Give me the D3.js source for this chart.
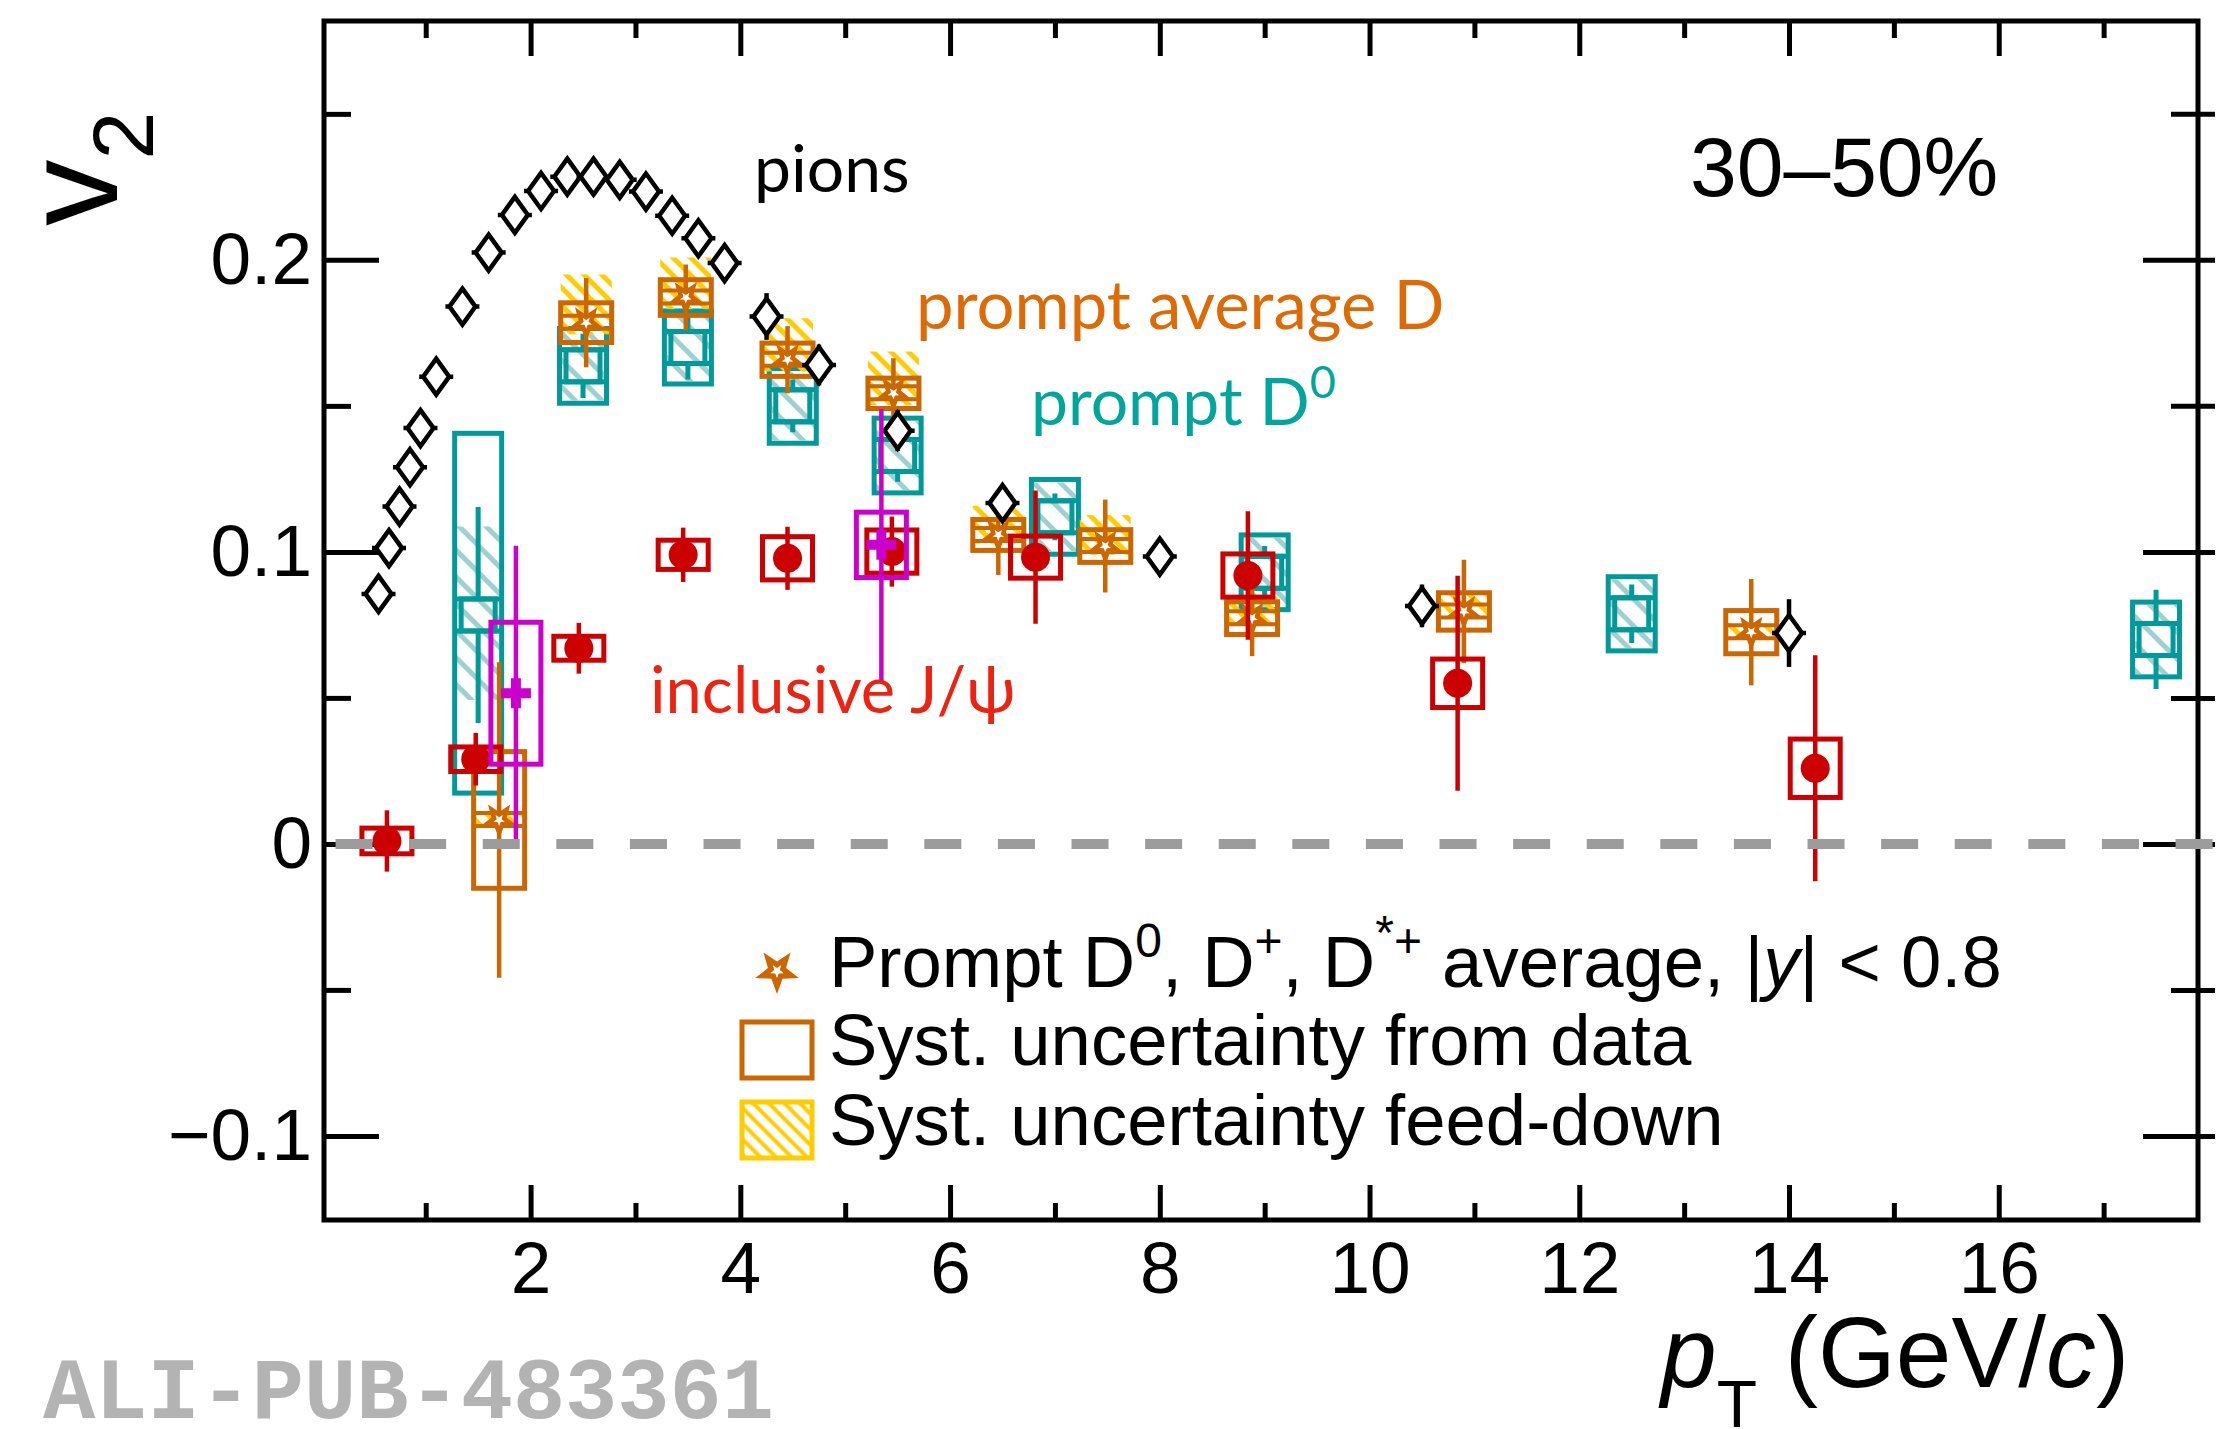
<!DOCTYPE html>
<html>
<head>
<meta charset="utf-8">
<script src="https://cdn.jsdelivr.net/npm/d3@7"></script>
<style>
  html, body { margin: 0; padding: 0; background: #ffffff; }
  svg { display: block; }
</style>
</head>
<body>
<svg id="chart" width="2240" height="1429"></svg>
<script>
// ---------------- data ----------------
// charged pions
const pionPt   = [0.55, 0.65, 0.75, 0.85, 0.95, 1.1, 1.35, 1.6, 1.85, 2.1, 2.35, 2.6, 2.85, 3.1, 3.35, 3.6, 3.85, 4.25, 4.75, 5.5, 6.5, 8.0, 10.5, 14.0];
const pionV2   = [0.0856, 0.1013, 0.1155, 0.129, 0.1424, 0.160, 0.184, 0.2025, 0.2154, 0.2236, 0.2285, 0.2285, 0.2274, 0.2234, 0.2151, 0.2074, 0.1989, 0.1806, 0.164, 0.1415, 0.1167, 0.0984, 0.0815, 0.0722];
const pionStat = [0.001, 0.001, 0.001, 0.001, 0.001, 0.001, 0.001, 0.001, 0.001, 0.001, 0.001, 0.001, 0.001, 0.001, 0.001, 0.001, 0.002, 0.008, 0.007, 0.007, 0.006, 0.004, 0.0073, 0.0116];

// prompt D0, D+, D*+ average
const dAvgPt     = [1.70, 2.53, 3.48, 4.45, 5.46, 6.46, 7.48, 8.88, 10.9, 13.64];
const dAvgV2     = [0.0082, 0.1785, 0.1871, 0.1658, 0.1543, 0.1058, 0.1020, 0.0773, 0.0796, 0.0725];
const dAvgStat   = [0.054, 0.0153, 0.0113, 0.0115, 0.012, 0.0137, 0.0159, 0.013, 0.0177, 0.0182];
const dAvgSyst   = [0.0234, 0.0068, 0.0061, 0.0057, 0.0052, 0.0053, 0.0056, 0.0056, 0.0064, 0.0074];
const dAvgFdUp   = [0.003, 0.0165, 0.0137, 0.0142, 0.0143, 0.010, 0.0106, 0.0074, 0.006, 0.003];
const dAvgFdDown = [0.002, 0.004, 0.004, 0.004, 0.004, 0.003, 0.003, 0.002, 0.002, 0.002];

// prompt D0
const d0Pt       = [1.5, 2.5, 3.5, 4.5, 5.5, 7.0, 9.0, 12.5, 17.5];
const d0V2       = [0.0784, 0.1637, 0.170, 0.150, 0.133, 0.112, 0.093, 0.0788, 0.070];
const d0Stat     = [0.037, 0.011, 0.011, 0.009, 0.009, 0.008, 0.009, 0.010, 0.017];
const d0SystUp   = [0.0622, 0.0128, 0.0125, 0.0128, 0.0128, 0.0128, 0.0128, 0.0127, 0.0128];
const d0SystDown = [0.0610, 0.0128, 0.0125, 0.0128, 0.0128, 0.0128, 0.0128, 0.0127, 0.0128];
const d0FdUp     = [0.0303, 0.0118, 0.0115, 0.0118, 0.0118, 0.0118, 0.0118, 0.0117, 0.0118];
const d0FdDown   = [0.0291, 0.0118, 0.0115, 0.0118, 0.0118, 0.0118, 0.0118, 0.0117, 0.0118];

// inclusive J/psi (forward)
const jpsiPt   = [0.63, 1.477, 2.46, 3.455, 4.45, 5.445, 6.815, 8.84, 10.84, 14.25];
const jpsiV2   = [0.001, 0.029, 0.067, 0.099, 0.0978, 0.1001, 0.0982, 0.0919, 0.055, 0.0259];
const jpsiStat = [0.0105, 0.009, 0.0087, 0.0093, 0.0108, 0.012, 0.0228, 0.022, 0.0368, 0.0387];
const jpsiSyst = [0.0044, 0.0042, 0.0041, 0.005, 0.0074, 0.0074, 0.0072, 0.0074, 0.0083, 0.010];

// inclusive J/psi (midrapidity)
const jpsiMidPt   = [1.86, 5.345];
const jpsiMidV2   = [0.0516, 0.1024];
const jpsiMidStat = [0.0505, 0.0465];
const jpsiMidSyst = [0.0243, 0.0112];

// axis ticks
const xMajorTicks = [2, 4, 6, 8, 10, 12, 14, 16];
const xMinorTicks = [1, 3, 5, 7, 9, 11, 13, 15, 17];
const yMajorTicks = [-0.1, 0, 0.1, 0.2];
const yTickLabels = ["\u22120.1", "0", "0.1", "0.2"];
const yMinorTicks = [-0.05, 0.05, 0.15, 0.25];

// ---------------- layout ----------------
const frame = { left: 324, right: 2198, top: 21, bottom: 1220 };
const x = d3.scaleLinear().domain([0.03, 17.9]).range([frame.left, frame.right]);
const y = d3.scaleLinear().domain([-0.1288, 0.2818]).range([frame.bottom, frame.top]);

const C = {
  orange: "#cc6600", orangeText: "#dd6a05", yellow: "#ffcc00",
  teal: "#009a9a", tealHatch: "#9fcfcf", tealText: "#00a69c",
  red: "#cc0000", redText: "#ee2211", magenta: "#cc00cc", gray: "#9c9c9c"
};
const tickFont = "'Liberation Sans', Arial, Helvetica, sans-serif";
const labelFont = "Lato, 'Open Sans', sans-serif";

const svg = d3.select("#chart");
const idx = arr => arr.map((_, i) => i);

// hatch patterns
const defs = svg.append("defs");
function hatch(id, color, spacing, width) {
  const p = defs.append("pattern").attr("id", id)
    .attr("patternUnits", "userSpaceOnUse")
    .attr("width", spacing).attr("height", spacing)
    .attr("patternTransform", "rotate(-45)");
  p.append("line").attr("x1", spacing / 2).attr("x2", spacing / 2)
    .attr("y1", 0).attr("y2", spacing)
    .attr("stroke", color).attr("stroke-width", width);
}
hatch("hatchYellow", C.yellow, 12.5, 5);
hatch("hatchTeal", C.tealHatch, 19, 5);
hatch("hatchYellowLegend", C.yellow, 11, 4);

// ---------------- frame & axes ----------------
const axes = svg.append("g").attr("class", "axes");

axes.append("g").attr("transform", `translate(0,${frame.bottom})`)
  .call(d3.axisBottom(x).tickValues(xMajorTicks).tickSize(-35).tickPadding(21).tickFormat(d3.format("d")));
axes.append("g").attr("transform", `translate(0,${frame.bottom})`)
  .call(d3.axisBottom(x).tickValues(xMinorTicks).tickSize(-17).tickFormat(""));
axes.append("g").attr("transform", `translate(0,${frame.top})`)
  .call(d3.axisTop(x).tickValues(xMajorTicks).tickSize(-35).tickFormat(""));
axes.append("g").attr("transform", `translate(0,${frame.top})`)
  .call(d3.axisTop(x).tickValues(xMinorTicks).tickSize(-17).tickFormat(""));

axes.append("g").attr("transform", `translate(${frame.left},0)`)
  .call(d3.axisLeft(y).tickValues(yMajorTicks).tickSize(-55).tickPadding(12)
    .tickFormat((d, i) => yTickLabels[i]));
axes.append("g").attr("transform", `translate(${frame.left},0)`)
  .call(d3.axisLeft(y).tickValues(yMinorTicks).tickSize(-27).tickFormat(""));
const gRightMajor = axes.append("g").attr("transform", `translate(${frame.right},0)`)
  .call(d3.axisRight(y).tickValues(yMajorTicks).tickSize(-55).tickFormat(""));
const gRightMinor = axes.append("g").attr("transform", `translate(${frame.right},0)`)
  .call(d3.axisRight(y).tickValues(yMinorTicks).tickSize(-27).tickFormat(""));
gRightMajor.selectAll(".tick line").attr("x1", 17);
gRightMinor.selectAll(".tick line").attr("x1", 17);

axes.selectAll(".domain").remove();
axes.selectAll(".tick line").attr("stroke", "#000").attr("stroke-width", 5);
axes.selectAll(".tick text").attr("fill", "#000")
  .style("font-family", tickFont).style("font-size", "73px");

axes.append("rect")
  .attr("x", frame.left).attr("y", frame.top)
  .attr("width", frame.right - frame.left).attr("height", frame.bottom - frame.top)
  .attr("fill", "none").attr("stroke", "#000").attr("stroke-width", 5);

// axis titles
svg.append("text")
  .attr("transform", "translate(117,226) rotate(-90)")
  .style("font-family", tickFont).style("font-size", "133px").attr("fill", "#000")
  .call(t => {
    t.append("tspan").text("v");
    t.append("tspan").attr("dy", 36).style("font-size", "86px").text("2");
  });

svg.append("text")
  .attr("x", 1661).attr("y", 1387)
  .style("font-family", tickFont).style("font-size", "100px").attr("fill", "#000")
  .call(t => {
    t.append("tspan").style("font-style", "italic").text("p");
    t.append("tspan").attr("dy", 40).style("font-size", "66px").text("T");
    t.append("tspan").attr("dy", -40).text(" (GeV/");
    t.append("tspan").style("font-style", "italic").text("c");
    t.append("tspan").text(")");
  });

// ---------------- marker shapes ----------------
function starPath(R, r, pointDown) {
  const pts = [];
  const a0 = pointDown ? Math.PI / 2 : -Math.PI / 2;
  for (let k = 0; k < 10; k++) {
    const a = a0 + k * Math.PI / 5;
    const rad = k % 2 ? r : R;
    pts.push([rad * Math.cos(a), rad * Math.sin(a)]);
  }
  return "M" + pts.map(p => p.join(",")).join("L") + "Z";
}
const diamondPath = "M0,-18L13,0L0,18L-13,0Z";

// ---------------- prompt D0 ----------------
const gD0 = svg.append("g").attr("class", "d0");
const d0Half = 23.5, d0MarkW = 34, d0MarkH = 32;
gD0.selectAll("rect.fd").data(idx(d0Pt)).join("rect").attr("class", "fd")
  .attr("x", i => x(d0Pt[i]) - d0Half).attr("width", 2 * d0Half)
  .attr("y", i => y(d0V2[i] + d0FdUp[i]))
  .attr("height", i => y(d0V2[i] - d0FdDown[i]) - y(d0V2[i] + d0FdUp[i]))
  .attr("fill", "url(#hatchTeal)");
gD0.selectAll("rect.syst").data(idx(d0Pt)).join("rect").attr("class", "syst")
  .attr("x", i => x(d0Pt[i]) - d0Half).attr("width", 2 * d0Half)
  .attr("y", i => y(d0V2[i] + d0SystUp[i]))
  .attr("height", i => y(d0V2[i] - d0SystDown[i]) - y(d0V2[i] + d0SystUp[i]))
  .attr("fill", "none").attr("stroke", C.teal).attr("stroke-width", 5);
gD0.selectAll("path.err").data(idx(d0Pt)).join("path").attr("class", "err")
  .attr("d", i => {
    const cx = x(d0Pt[i]), cy = y(d0V2[i]);
    const top = y(d0V2[i] + d0Stat[i]), bot = y(d0V2[i] - d0Stat[i]);
    let d = "";
    if (top < cy - d0MarkH / 2) d += `M${cx},${top}L${cx},${cy - d0MarkH / 2}`;
    if (bot > cy + d0MarkH / 2) d += `M${cx},${cy + d0MarkH / 2}L${cx},${bot}`;
    return d || null;
  })
  .attr("stroke", C.teal).attr("stroke-width", 5).attr("fill", "none");
gD0.selectAll("path.bars").data(idx(d0Pt)).join("path").attr("class", "bars")
  .attr("d", i => {
    const cx = x(d0Pt[i]), cy = y(d0V2[i]);
    return `M${cx - d0Half},${cy - d0MarkH / 2}L${cx + d0Half},${cy - d0MarkH / 2}` +
           `M${cx - d0Half},${cy + d0MarkH / 2}L${cx + d0Half},${cy + d0MarkH / 2}`;
  })
  .attr("stroke", C.teal).attr("stroke-width", 5).attr("fill", "none");
gD0.selectAll("rect.mark").data(idx(d0Pt)).join("rect").attr("class", "mark")
  .attr("x", i => x(d0Pt[i]) - d0MarkW / 2).attr("width", d0MarkW)
  .attr("y", i => y(d0V2[i]) - d0MarkH / 2).attr("height", d0MarkH)
  .attr("fill", "none").attr("stroke", C.teal).attr("stroke-width", 5);

// ---------------- prompt D average ----------------
const gAvg = svg.append("g").attr("class", "davg");
const avgHalf = 25.5;
gAvg.selectAll("rect.fd").data(idx(dAvgPt)).join("rect").attr("class", "fd")
  .attr("x", i => x(dAvgPt[i]) - avgHalf).attr("width", 2 * avgHalf)
  .attr("y", i => y(dAvgV2[i] + dAvgFdUp[i]))
  .attr("height", i => y(dAvgV2[i] - dAvgFdDown[i]) - y(dAvgV2[i] + dAvgFdUp[i]))
  .attr("fill", "url(#hatchYellow)");
gAvg.selectAll("rect.syst").data(idx(dAvgPt)).join("rect").attr("class", "syst")
  .attr("x", i => x(dAvgPt[i]) - avgHalf).attr("width", 2 * avgHalf)
  .attr("y", i => y(dAvgV2[i] + dAvgSyst[i]))
  .attr("height", i => y(dAvgV2[i] - dAvgSyst[i]) - y(dAvgV2[i] + dAvgSyst[i]))
  .attr("fill", "none").attr("stroke", C.orange).attr("stroke-width", 5);
gAvg.selectAll("path.bars").data(idx(dAvgPt)).join("path").attr("class", "bars")
  .attr("d", i => {
    const cx = x(dAvgPt[i]), cy = y(dAvgV2[i]);
    return `M${cx - avgHalf},${cy - 7}L${cx + avgHalf},${cy - 7}` +
           `M${cx - avgHalf},${cy + 6}L${cx + avgHalf},${cy + 6}`;
  })
  .attr("stroke", C.orange).attr("stroke-width", 4).attr("fill", "none");
gAvg.selectAll("line.err").data(idx(dAvgPt)).join("line").attr("class", "err")
  .attr("x1", i => x(dAvgPt[i])).attr("x2", i => x(dAvgPt[i]))
  .attr("y1", i => y(dAvgV2[i] + dAvgStat[i])).attr("y2", i => y(dAvgV2[i] - dAvgStat[i]))
  .attr("stroke", C.orange).attr("stroke-width", 4.5);
gAvg.selectAll("path.star").data(idx(dAvgPt)).join("path").attr("class", "star")
  .attr("transform", i => `translate(${x(dAvgPt[i])},${y(dAvgV2[i])})`)
  .attr("d", starPath(19, 8, true)).attr("fill", C.orange);
gAvg.selectAll("path.starIn").data(idx(dAvgPt)).join("path").attr("class", "starIn")
  .attr("transform", i => `translate(${x(dAvgPt[i])},${y(dAvgV2[i])})`)
  .attr("d", starPath(6, 2.6, true)).attr("fill", "#fff");

// ---------------- pions ----------------
const gPi = svg.append("g").attr("class", "pions");
gPi.selectAll("line.err").data(idx(pionPt)).join("line").attr("class", "err")
  .attr("x1", i => x(pionPt[i])).attr("x2", i => x(pionPt[i]))
  .attr("y1", i => y(pionV2[i] + pionStat[i])).attr("y2", i => y(pionV2[i] - pionStat[i]))
  .attr("stroke", "#000").attr("stroke-width", 4.5);
gPi.selectAll("path.mark").data(idx(pionPt)).join("path").attr("class", "mark")
  .attr("transform", i => `translate(${x(pionPt[i])},${y(pionV2[i])})`)
  .attr("d", diamondPath + "M-17,0L-11,0M11,0L17,0")
  .attr("fill", "#fff").attr("stroke", "#000").attr("stroke-width", 4.5)
  .attr("stroke-linejoin", "miter");

// ---------------- inclusive J/psi ----------------
const gJ = svg.append("g").attr("class", "jpsi");
const jHalf = 25;
gJ.selectAll("rect.syst").data(idx(jpsiPt)).join("rect").attr("class", "syst")
  .attr("x", i => x(jpsiPt[i]) - jHalf).attr("width", 2 * jHalf)
  .attr("y", i => y(jpsiV2[i] + jpsiSyst[i]))
  .attr("height", i => y(jpsiV2[i] - jpsiSyst[i]) - y(jpsiV2[i] + jpsiSyst[i]))
  .attr("fill", "none").attr("stroke", C.red).attr("stroke-width", 5);
gJ.selectAll("line.err").data(idx(jpsiPt)).join("line").attr("class", "err")
  .attr("x1", i => x(jpsiPt[i])).attr("x2", i => x(jpsiPt[i]))
  .attr("y1", i => y(jpsiV2[i] + jpsiStat[i])).attr("y2", i => y(jpsiV2[i] - jpsiStat[i]))
  .attr("stroke", C.red).attr("stroke-width", 4.5);
gJ.selectAll("circle").data(idx(jpsiPt)).join("circle")
  .attr("cx", i => x(jpsiPt[i])).attr("cy", i => y(jpsiV2[i])).attr("r", 14.5)
  .attr("fill", C.red);

// ---------------- J/psi midrapidity ----------------
const gM = svg.append("g").attr("class", "jpsimid");
gM.selectAll("rect.syst").data(idx(jpsiMidPt)).join("rect").attr("class", "syst")
  .attr("x", i => x(jpsiMidPt[i]) - 25).attr("width", 50)
  .attr("y", i => y(jpsiMidV2[i] + jpsiMidSyst[i]))
  .attr("height", i => y(jpsiMidV2[i] - jpsiMidSyst[i]) - y(jpsiMidV2[i] + jpsiMidSyst[i]))
  .attr("fill", "none").attr("stroke", C.magenta).attr("stroke-width", 5);
gM.selectAll("line.err").data(idx(jpsiMidPt)).join("line").attr("class", "err")
  .attr("x1", i => x(jpsiMidPt[i])).attr("x2", i => x(jpsiMidPt[i]))
  .attr("y1", i => y(jpsiMidV2[i] + jpsiMidStat[i])).attr("y2", i => y(jpsiMidV2[i] - jpsiMidStat[i]))
  .attr("stroke", C.magenta).attr("stroke-width", 4.5);
gM.selectAll("path.cross").data(idx(jpsiMidPt)).join("path").attr("class", "cross")
  .attr("transform", i => `translate(${x(jpsiMidPt[i])},${y(jpsiMidV2[i])})`)
  .attr("d", "M-15,0L15,0M0,-15L0,15")
  .attr("stroke", C.magenta).attr("stroke-width", 10).attr("fill", "none");

// zero line
svg.append("line")
  .attr("x1", x(0.14)).attr("x2", x(18.08)).attr("y1", y(0)).attr("y2", y(0))
  .attr("stroke", C.gray).attr("stroke-width", 10).attr("stroke-dasharray", "37 36.6");

// ---------------- annotations ----------------
svg.append("text").attr("x", 1690).attr("y", 196)
  .style("font-family", tickFont).style("font-size", "84px").attr("fill", "#000")
  .text("30\u201350%");
svg.append("text").attr("x", 754).attr("y", 192)
  .style("font-family", labelFont).style("font-size", "66px").attr("fill", "#000")
  .text("pions");
svg.append("text").attr("x", 916).attr("y", 329)
  .style("font-family", labelFont).style("font-size", "67px").attr("fill", C.orangeText)
  .text("prompt average D");
svg.append("text").attr("x", 1031).attr("y", 425)
  .style("font-family", labelFont).style("font-size", "66px").attr("fill", C.tealText)
  .call(t => {
    t.append("tspan").text("prompt D");
    t.append("tspan").attr("dy", -27).style("font-size", "45px").text("0");
  });
svg.append("text").attr("x", 650).attr("y", 713)
  .style("font-family", labelFont).style("font-size", "65px").attr("fill", C.redText)
  .text("inclusive J/\u03c8");

// ---------------- legend ----------------
const leg = svg.append("g").attr("class", "legend");
leg.append("path").attr("transform", "translate(777,971)")
  .attr("d", starPath(23, 9.5, true)).attr("fill", C.orange);
leg.append("path").attr("transform", "translate(777,971)")
  .attr("d", starPath(7, 3, true)).attr("fill", "#fff");
leg.append("rect").attr("x", 742).attr("y", 1022).attr("width", 70).attr("height", 56)
  .attr("fill", "#fff").attr("stroke", C.orange).attr("stroke-width", 5);
leg.append("rect").attr("x", 742).attr("y", 1102).attr("width", 70).attr("height", 56)
  .attr("fill", "url(#hatchYellowLegend)").attr("stroke", C.yellow).attr("stroke-width", 5);

const legText = leg.append("g").style("font-family", tickFont).style("font-size", "72.5px").attr("fill", "#000");
legText.append("text").attr("x", 829).attr("y", 987)
  .call(t => {
    t.append("tspan").text("Prompt D");
    t.append("tspan").attr("dy", -30).style("font-size", "48px").text("0");
    t.append("tspan").attr("dy", 30).text(", D");
    t.append("tspan").attr("dy", -30).style("font-size", "48px").text("+");
    t.append("tspan").attr("dy", 30).text(", D");
    t.append("tspan").attr("dy", -38).style("font-size", "48px").text("*");
    t.append("tspan").attr("dy", 8).style("font-size", "48px").text("+");
    t.append("tspan").attr("dy", 30).text(" average, |");
    t.append("tspan").style("font-style", "italic").text("y");
    t.append("tspan").text("| < 0.8");
  });
legText.append("text").attr("x", 829).attr("y", 1065).text("Syst. uncertainty from data");
legText.append("text").attr("x", 829).attr("y", 1145).text("Syst. uncertainty feed-down");

// publication id
svg.append("text").attr("x", 43).attr("y", 1418)
  .style("font-family", "'Liberation Mono', 'Courier New', monospace")
  .style("font-weight", "bold").style("font-size", "87px").attr("fill", "#b3b3b3")
  .text("ALI-PUB-483361");
</script>
</body>
</html>
